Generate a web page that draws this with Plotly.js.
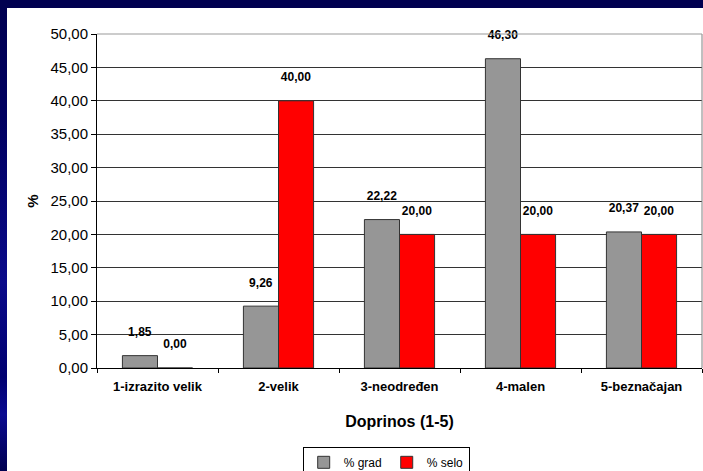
<!DOCTYPE html>
<html>
<head>
<meta charset="utf-8">
<script src="https://cdn.plot.ly/plotly-3.0.1.min.js"></script>
<style>
  html, body { margin: 0; padding: 0; width: 703px; height: 471px; overflow: hidden; }
  body { background: linear-gradient(to bottom, #000050 0%, #000060 25%, #0a0a8a 60%, #000070 80%, #0a0a90 88%, #000050 100%); position: relative; }
  #topband { position: absolute; left: 0; top: 0; width: 703px; height: 8px; background: #000050; }
  #chart { position: absolute; left: 7px; top: 8px; width: 696px; height: 463px; background: #ffffff; }
</style>
</head>
<body>
<div id="topband"></div>
<div id="chart"></div>
<script>
const categories = ["1-izrazito velik", "2-velik", "3-neodređen", "4-malen", "5-beznačajan"];
const gradValues = [1.85, 9.26, 22.22, 46.30, 20.37];
const seloValues = [0.00, 40.00, 20.00, 20.00, 20.00];
const seriesNames = ["% grad", "% selo"];
const yTickValues = [0, 5, 10, 15, 20, 25, 30, 35, 40, 45, 50];

const fmt = v => v.toFixed(2).replace('.', ',') + "<br><span style='font-size:5px'> </span>";
const labelFont = { family: "Liberation Sans, Arial, sans-serif", size: 12, color: "#000000", weight: "bold" };

const traces = [
  {
    type: "bar", name: seriesNames[0], x: categories, y: gradValues,
    marker: { color: "#969696", line: { color: "#333333", width: 1 } },
    text: gradValues.map(fmt), textposition: "outside", textfont: labelFont,
    cliponaxis: false, hoverinfo: "x+y"
  },
  {
    type: "bar", name: seriesNames[1], x: categories, y: seloValues,
    marker: { color: "#ff0000", line: { color: "#333333", width: 1 } },
    text: seloValues.map(fmt), textposition: "outside", textfont: labelFont,
    cliponaxis: false, hoverinfo: "x+y"
  }
];

const layout = {
  width: 696, height: 463,
  margin: { l: 90, r: 1, t: 26, b: 103, autoexpand: false },
  paper_bgcolor: "#ffffff", plot_bgcolor: "#ffffff",
  separators: ",.",
  font: { family: "Liberation Sans, Arial, sans-serif", color: "#000000" },
  barmode: "group", bargap: 0.42, bargroupgap: 0,
  showlegend: true,
  legend: {
    orientation: "h", x: 0.478, xanchor: "center", y: -0.236, yanchor: "top",
    bordercolor: "#000000", borderwidth: 1, font: { size: 12 },
    itemwidth: 30, traceorder: "normal"
  },
  xaxis: {
    type: "category", tickfont: { size: 13, weight: "bold" }, automargin: false,
    showline: true, linecolor: "#000000", linewidth: 1,
    ticks: "outside", tickson: "boundaries", ticklen: 4, tickcolor: "#000000",
    ticklabelstandoff: 6,
    showgrid: false,
    title: { text: "Doprinos (1-5)", font: { size: 16, weight: "bold" }, standoff: 23 }
  },
  yaxis: {
    range: [0, 50], tickvals: yTickValues, tickformat: ".2f", automargin: false,
    tickfont: { size: 15 }, ticks: "outside", ticklen: 5, tickcolor: "#000000",
    showline: true, linecolor: "#000000", linewidth: 1,
    showgrid: true, gridcolor: "#333333", gridwidth: 1,
    zeroline: false,
    title: { text: "%", font: { size: 15, weight: "bold" }, standoff: 8 }
  },
  shapes: [
    { type: "line", xref: "paper", yref: "paper", x0: 1, x1: 1, y0: 0, y1: 1, line: { color: "#808080", width: 1 } },
    { type: "line", xref: "paper", yref: "paper", x0: 0, x1: 1, y0: 1, y1: 1, line: { color: "#999999", width: 1 } }
  ]
};

Plotly.newPlot("chart", traces, layout, { displayModeBar: false, staticPlot: true });
</script>
</body>
</html>
